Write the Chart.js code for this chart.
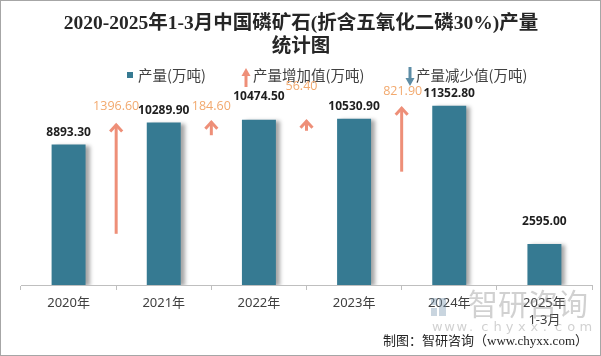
<!DOCTYPE html>
<html><head><meta charset="utf-8">
<script src="https://cdn.jsdelivr.net/npm/chart.js@4/dist/chart.umd.min.js"></script>
<style>html,body{margin:0;padding:0;background:#fff}#wrap{width:601px;height:356px;position:relative}</style>
</head><body><div id="wrap"><canvas id="c"></canvas></div>
<script>
const titleLines = ['2020-2025年1-3月中国磷矿石(折含五氧化二磷30%)产量', '统计图'];
const categories = ['2020年', '2021年', '2022年', '2023年', '2024年', ['2025年', '1-3月']];
const production = [8893.3, 10289.9, 10474.5, 10530.9, 11352.8, 2595.0];
const increase = [1396.6, 184.6, 56.4, 821.9, null];
const decrease = [null, null, null, null, null];
const legendLabels = ['产量(万吨)', '产量增加值(万吨)', '产量减少值(万吨)'];
const sourceText = '制图：智研咨询（www.chyxx.com）';

const BAR = '#367A92', UP = '#EE8F78', UPLBL = '#F2A96E', DOWN = '#5D8DA6';
const barLabelLift = [12, 12, 23, 12, 12, 22];
const upLabelLift = [17, 14, 33, 15];
const upLabelShift = [0, 0, -5, 1];

function chevronArrow(ctx, x, tip, bottom, color) {
  ctx.save();
  ctx.strokeStyle = color; ctx.lineWidth = 3; ctx.lineJoin = 'miter'; ctx.lineCap = 'butt';
  ctx.beginPath(); ctx.moveTo(x, tip + 1); ctx.lineTo(x, bottom); ctx.stroke();
  ctx.beginPath(); ctx.moveTo(x - 6, tip + 8); ctx.lineTo(x, tip + 1.5); ctx.lineTo(x + 6, tip + 8); ctx.stroke();
  ctx.restore();
}
function legendArrow(ctx, x, y1, y2, color, up) {
  ctx.save(); ctx.fillStyle = color; ctx.strokeStyle = color; ctx.lineWidth = 3;
  if (up) {
    ctx.beginPath(); ctx.moveTo(x, y1 + 6); ctx.lineTo(x, y2); ctx.stroke();
    ctx.beginPath(); ctx.moveTo(x - 4.5, y1 + 8); ctx.lineTo(x, y1); ctx.lineTo(x + 4.5, y1 + 8); ctx.closePath(); ctx.fill();
  } else {
    ctx.beginPath(); ctx.moveTo(x, y1); ctx.lineTo(x, y2 - 6); ctx.stroke();
    ctx.beginPath(); ctx.moveTo(x - 4.5, y2 - 8); ctx.lineTo(x, y2); ctx.lineTo(x + 4.5, y2 - 8); ctx.closePath(); ctx.fill();
  }
  ctx.restore();
}

const decor = {
  id: 'decor',
  beforeDatasetDraw(chart, args) {
    if (args.index === 0) {
      const ctx = chart.ctx; ctx.save();
      ctx.shadowColor = 'rgba(0,0,0,0.35)'; ctx.shadowOffsetX = 4; ctx.shadowOffsetY = 1; ctx.shadowBlur = 4;
    }
  },
  afterDatasetDraw(chart, args) { if (args.index === 0) chart.ctx.restore(); },
  afterDraw(chart) {
    const ctx = chart.ctx, x = chart.scales.x, y = chart.scales.y, y2 = chart.scales.y2;
    ctx.save();
    // title
    ctx.fillStyle = '#262626'; ctx.textAlign = 'center'; ctx.textBaseline = 'middle';
    ctx.font = 'bold 19.5px "Liberation Serif", "Noto Sans CJK SC"';
    ctx.fillText(titleLines[0], 301, 24);
    ctx.fillText(titleLines[1], 301, 47);
    // legend
    ctx.font = '14.5px "Noto Sans CJK SC"'; ctx.textAlign = 'left';
    ctx.fillStyle = BAR; ctx.fillRect(127, 72, 6, 6);
    ctx.fillStyle = '#404040'; ctx.fillText(legendLabels[0], 138, 75);
    legendArrow(ctx, 246, 68, 87, UP, true);
    ctx.fillStyle = '#404040'; ctx.fillText(legendLabels[1], 253, 75);
    legendArrow(ctx, 410, 67, 86, DOWN, false);
    ctx.fillStyle = '#404040'; ctx.fillText(legendLabels[2], 416, 75);
    // bar labels
    ctx.textAlign = 'center'; ctx.font = 'bold 12px "Open Sans", "Noto Sans"'; ctx.fillStyle = '#1f1f1f';
    production.forEach((v, i) => {
      ctx.fillText(v.toFixed(2), x.getPixelForValue(i), y.getPixelForValue(v) - barLabelLift[i]);
    });
    // increase arrows
    ctx.font = '12.5px "Open Sans", "Noto Sans"';
    increase.forEach((d, i) => {
      if (d == null) return;
      const ax = (x.getPixelForValue(i) + x.getPixelForValue(i + 1)) / 2;
      const tip = y.getPixelForValue(production[i + 1]) + 1;
      const len = Math.max(y2.getPixelForValue(0) - y2.getPixelForValue(d), 11);
      chevronArrow(ctx, ax, tip, tip + len, UP);
      ctx.fillStyle = UPLBL;
      ctx.fillText(d.toFixed(2), ax + upLabelShift[i], tip - upLabelLift[i]);
    });
    decrease.forEach((d, i) => {
      if (d == null) return;
      const ax = (x.getPixelForValue(i) + x.getPixelForValue(i + 1)) / 2;
      const top = y.getPixelForValue(production[i]);
      const len = Math.max(y2.getPixelForValue(0) - y2.getPixelForValue(d), 11);
      legendArrow(ctx, ax, top, top + len, DOWN, false);
    });
    // watermark
    ctx.fillStyle = 'rgba(120,150,175,0.4)';
    ctx.fillRect(431, 298, 6, 7); ctx.fillRect(431, 308, 6, 8); ctx.fillRect(439, 298, 7, 18);
    ctx.fillStyle = 'rgba(140,140,140,0.4)';
    ctx.font = '30px "Noto Sans CJK SC"'; ctx.textAlign = 'left';
    ctx.fillText('智研咨询', 468, 304);
    ctx.font = '13px "DejaVu Sans"';
    const w = 'www.chyxx.com'.split('');
    w.forEach((ch, i) => ctx.fillText(ch, 432 + i * 12.3, 328));
    // source
    ctx.fillStyle = '#262626'; ctx.textAlign = 'right';
    ctx.font = '13px "Liberation Serif", "Noto Sans CJK SC"';
    ctx.fillText(sourceText, 588, 342);
    // border
    ctx.strokeStyle = '#a6a6a6'; ctx.lineWidth = 1; ctx.strokeRect(0.5, 0.5, 600, 355);
    ctx.restore();
  }
};

new Chart(document.getElementById('c'), {
  type: 'bar',
  data: { labels: categories, datasets: [{ label: legendLabels[0], data: production, backgroundColor: BAR, barPercentage: 0.357, categoryPercentage: 1 }] },
  options: {
    responsive: true, maintainAspectRatio: false, animation: false, devicePixelRatio: 1,
    layout: { padding: { top: 64, left: 21, right: 9, bottom: 0 } },
    plugins: { legend: { display: false }, title: { display: false }, tooltip: { enabled: false } },
    scales: {
      x: {
        offset: true,
        grid: { offset: true, drawOnChartArea: false, drawTicks: true, tickLength: 5, color: '#bfbfbf' },
        border: { color: '#bfbfbf' },
        ticks: { color: '#404040', font: { family: '"Noto Sans", "Noto Sans CJK SC"', size: 13, lineHeight: 1.3 }, padding: 5, maxRotation: 0 },
        afterFit(s) { s.height = 71; }
      },
      y: { display: false, min: 0, max: 14000 },
      y2: { display: false, min: 0, max: 2800 }
    }
  },
  plugins: [decor]
});
</script></body></html>
